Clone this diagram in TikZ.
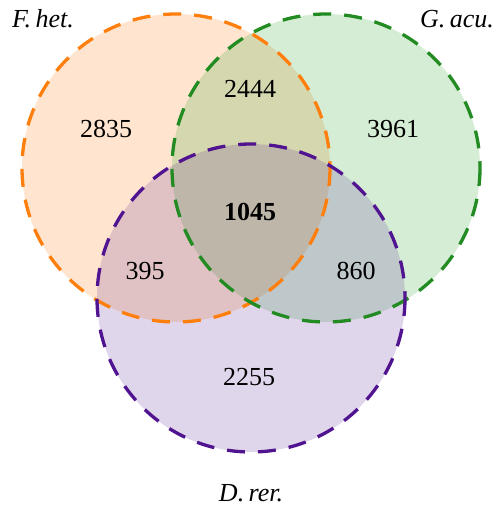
\documentclass[tikz,border=0pt]{standalone}
\usepackage{fontspec}
\setmainfont{Liberation Serif}
\begin{document}
\begin{tikzpicture}[x=1pt,y=-1pt,
  setfill/.style={fill=#1,fill opacity=0.2,draw=none},
  setedge/.style={draw=#1,line width=3.3pt,dash pattern=on 18pt off 13pt},
  count/.style={font=\fontsize{26}{30}\selectfont},
  setlabel/.style={font=\fontsize{26}{30}\selectfont\itshape}]
\definecolor{orgedge}{RGB}{255,127,14}
\definecolor{grnfill}{RGB}{44,160,44}
\definecolor{grnedge}{RGB}{34,139,34}
\definecolor{purfill}{RGB}{102,51,153}
\definecolor{puredge}{RGB}{80,20,145}
\useasboundingbox (0,0) rectangle (500,508);
\coordinate (cF) at (176,168);
\coordinate (cG) at (326,168);
\coordinate (cD) at (251,298);
\fill[setfill=orgedge] (cF) circle (154);
\fill[setfill=grnfill] (cG) circle (154);
\fill[setfill=purfill] (cD) circle (154);
\draw[setedge=orgedge] (cF) circle (154);
\draw[setedge=grnedge] (cG) circle (154);
\draw[setedge=puredge] (cD) circle (154);
\node[count] (n1) at (106,129) {2835};
\node[count] (n2) at (250,89) {2444};
\node[count] (n3) at (393,129) {3961};
\node[count,font=\fontsize{26}{30}\selectfont\bfseries] (n4) at (250,212) {1045};
\node[count] (n5) at (145,271) {395};
\node[count] (n6) at (356,271) {860};
\node[count] (n7) at (249,377) {2255};
\node[setlabel] (lF) at (43,19) {F.\,het.};
\node[setlabel] (lG) at (457,19) {G.\,acu.};
\node[setlabel] (lD) at (251,493) {D.\,rer.};
\end{tikzpicture}
\end{document}
